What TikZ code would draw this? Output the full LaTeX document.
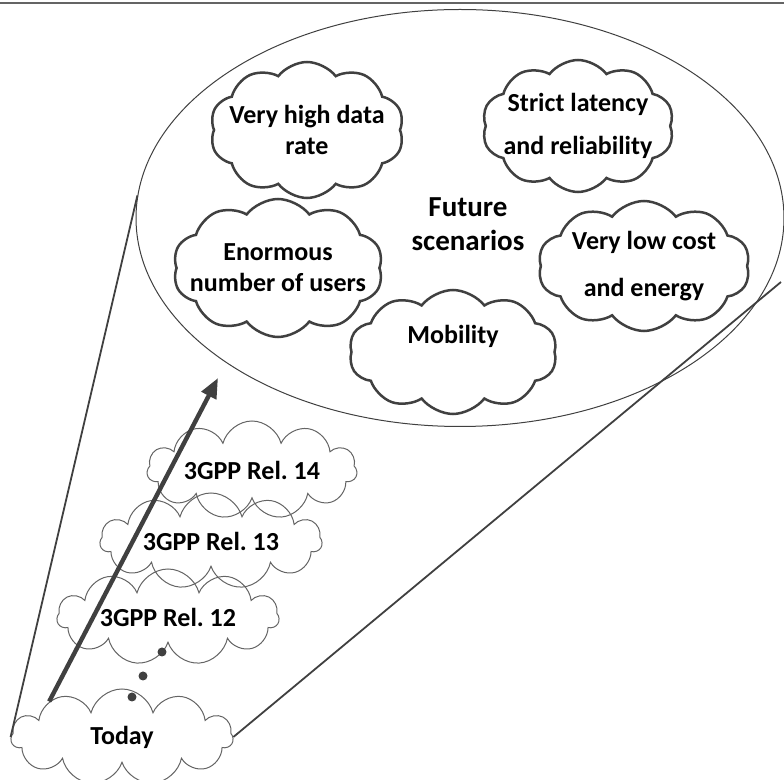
\documentclass[tikz,border=0pt]{standalone}
\usepackage{fontspec}
\setmainfont{Carlito}
\usetikzlibrary{shapes.symbols, shapes.geometric, arrows.meta, positioning}

\definecolor{lineGray}{RGB}{64,64,64}
\definecolor{softGray}{RGB}{100,100,100}

\begin{document}
\begin{tikzpicture}[x=0.5pt, y=-0.5pt,
    label font/.style={font=\bfseries\frenchspacing\fontsize{13}{15.5}\selectfont},
    goal/.style={cloud, cloud puffs=10, cloud puff arc=105, cloud ignores aspect, draw=lineGray, line width=1.25pt, align=center, inner xsep=-30pt, inner ysep=-15pt, label font},
    release/.style={cloud, cloud puffs=11, cloud ignores aspect, draw=softGray, line width=0.5pt, align=center, inner xsep=-25pt, inner ysep=-8pt, label font, minimum width=111pt, minimum height=48pt},
    cone/.style={draw=lineGray, line width=0.9pt},
    trend/.style={draw=lineGray, line width=2.2pt, -{Triangle[length=10pt, width=8pt]}},
    dot/.style={circle, fill=lineGray, inner sep=0pt, minimum size=4.5pt}
]
\useasboundingbox (0,0) rectangle (784,780);
\draw[softGray, line width=0.75pt] (0,3) -- (784,3);

% the future, seen as a wide ellipse
\node[ellipse, draw=lineGray, line width=0.5pt, inner sep=0pt, minimum width=324pt, minimum height=208.5pt] (scen) at (460,218) {};

\node[goal, minimum width=97pt, minimum height=68pt] (dataRate) at (307,130) {Very high data\\rate};
\node[goal, minimum width=96pt, minimum height=66pt] (latency) at (578,126) {Strict latency\\[6pt]and reliability};
\node[goal, minimum width=105pt, minimum height=69pt] (users) at (278,268) {Enormous\\number of users};
\node[font=\bfseries\fontsize{14.5}{17}\selectfont, align=center] (future) at (468,224) {Future\\scenarios};
\node[goal, minimum width=104pt, minimum height=62pt] (mobility) at (453,352) {Mobility\\[-3pt]\strut};
\node[goal, minimum width=106pt, minimum height=65pt] (lowCost) at (644,266) {Very low cost\\[8pt]and energy};

% releases leading there
\node[release, minimum width=105pt, minimum height=49pt] (rel14) at (252,470) {3GPP Rel. 14};
\node[release] (rel13) at (211,541) {3GPP Rel. 13};
\node[release] (rel12) at (168,617) {3GPP Rel. 12};
\node[release] (today) at (122,737) {Today};

\node[dot] (dotA) at (162,652) {};
\node[dot] (dotB) at (143,676) {};
\node[dot] (dotC) at (132,697) {};

\coordinate (coneTop) at (781,282);
\draw[cone] (today.west) -- (scen.176);
\draw[cone] (today.east) -- (coneTop);

\coordinate (arrowTip) at (218,378);
\draw[trend] (today.154) -- (arrowTip);
\end{tikzpicture}
\end{document}
